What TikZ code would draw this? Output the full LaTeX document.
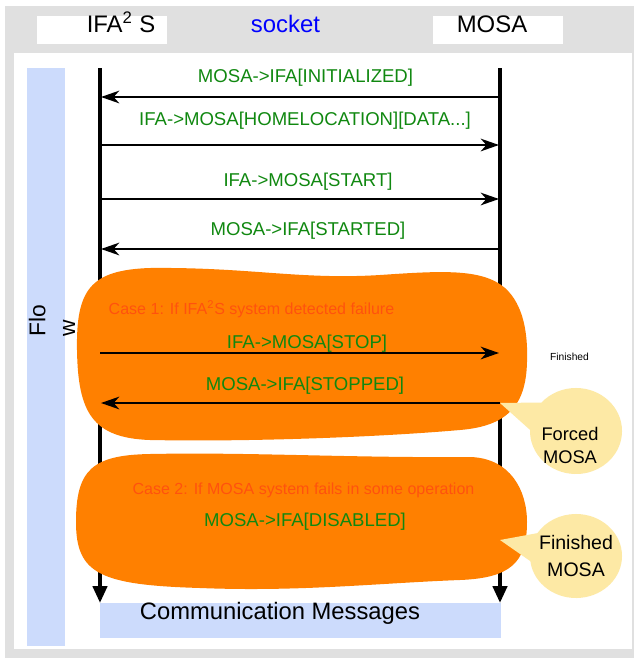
\documentclass[tikz,border=0pt]{standalone}
\usepackage{fontspec}
\setmainfont{Liberation Sans}
\usetikzlibrary{arrows.meta,shapes.callouts,positioning}
\definecolor{framegray}{RGB}{224,224,224}
\definecolor{flowblue}{RGB}{204,219,252}
\definecolor{msggreen}{RGB}{16,136,16}
\definecolor{caseorange}{RGB}{255,128,0}
\definecolor{casered}{RGB}{255,82,14}
\definecolor{notefill}{RGB}{253,233,165}

\begin{document}
\begin{tikzpicture}[
x=0.025cm, y=-0.025cm,
hdr/.style={
fill=white,
inner sep=0pt,
minimum width=3.25cm,
minimum height=0.7cm
},
hdrtext/.style={
inner sep=0pt,
font=\fontsize{17}{20}\selectfont
},
life/.style={
-{Triangle[length=12pt,width=10pt]},
line width=2.8pt
},
msg/.style={
-{Stealth[length=13pt,width=9pt,inset=4pt]},
line width=1.4pt
},
msgtext/.style={
inner sep=0pt,
text=msggreen,
font=\fontsize{13.2}{15}\selectfont
},
casetext/.style={
inner sep=0pt,
text=casered,
font=\fontsize{11.4}{13}\selectfont
},
blob/.style={
fill=caseorange
},
bubble/.style={
ellipse callout,
fill=notefill,
inner sep=0pt,
minimum width=2.3cm,
minimum height=2.15cm,
callout pointer arc=40
},
bubbletext/.style={
inner sep=0pt,
align=center
}
]

% frame and page
\fill[white] (0,0) rectangle (634,658);
\fill[framegray] (5,6) rectangle (634,658);
\fill[white] (14,53) rectangle (632,649);

% header boxes
\node[hdr] (ifa) at (102,30) {};
\node[hdr] (mosa) at (498,30) {};
\node[hdrtext, anchor=base] (ifaname) at (121,32) {IFA\textsuperscript{2} S};
\node[hdrtext, anchor=base, text=blue] (socket) at (285.5,32) {socket};
\node[hdrtext, anchor=base] (mosaname) at (492,32) {MOSA};

% flow bar on the left
\node[fill=flowblue, inner sep=0pt, anchor=north west,
minimum width=0.95cm, minimum height=14.45cm] (flowbar) at (27,68) {};
\node[rotate=90, align=left, inner sep=0pt,
font=\fontsize{16.2}{21}\selectfont] (flow) at (52,321) {Flo\\w};

% lifelines
\coordinate (ifaTop) at (100,68);
\coordinate (ifaEnd) at (100,603);
\coordinate (mosaTop) at (500,68);
\coordinate (mosaEnd) at (500,603);
\draw[life] (ifaTop) -- (ifaEnd);
\draw[life] (mosaTop) -- (mosaEnd);

% start-up messages
\coordinate (i1) at (101,97);
\coordinate (m1) at (500,97);
\coordinate (i2) at (100,145);
\coordinate (m2) at (499,145);
\coordinate (i3) at (100,199);
\coordinate (m3) at (499,199);
\coordinate (i4) at (101,249);
\coordinate (m4) at (500,249);

\draw[msg] (m1) -- (i1);
\draw[msg] (i2) -- (m2);
\draw[msg] (i3) -- (m3);
\draw[msg] (m4) -- (i4);

\node[msgtext, anchor=base] (t1) at (305.5,82) {MOSA->IFA[INITIALIZED]};
\node[msgtext, anchor=base] (t2) at (305,125) {IFA->MOSA[HOMELOCATION][DATA...]};
\node[msgtext, anchor=base] (t3) at (308,186) {IFA->MOSA[START]};
\node[msgtext, anchor=base] (t4) at (308,235) {MOSA->IFA[STARTED]};

% case 1
\fill[blob] (77,350)
.. controls (76,290) and (90,270) .. (150,268)
.. controls (250,267) and (300,280) .. (380,275)
.. controls (440,271) and (482,268) .. (505,288)
.. controls (524,305) and (528,335) .. (527,362)
.. controls (526,405) and (508,426) .. (460,430)
.. controls (380,437) and (250,442) .. (150,440)
.. controls (92,438) and (78,412) .. (77,350) -- cycle;

\node[casetext, anchor=base] (case1) at (251.5,314)
{Case 1: If IFA\textsuperscript{2}S system detected failure};

\coordinate (i5) at (100,353);
\coordinate (m5) at (499,353);
\coordinate (i6) at (101,403);
\coordinate (m6) at (500,403);
\draw[msg] (i5) -- (m5);
\draw[msg] (m6) -- (i6);
\node[msgtext, anchor=base] (t5) at (307,348) {IFA->MOSA[STOP]};
\node[msgtext, anchor=base] (t6) at (305,390) {MOSA->IFA[STOPPED]};

% case 2
\fill[blob] (76,522)
.. controls (76,470) and (92,455) .. (150,454)
.. controls (250,452) and (350,458) .. (470,457)
.. controls (510,458) and (527,490) .. (527,522)
.. controls (527,563) and (510,578) .. (460,580)
.. controls (380,583) and (300,592) .. (200,588)
.. controls (100,585) and (76,574) .. (76,522) -- cycle;

\node[casetext, anchor=base] (case2) at (303.5,494)
{Case 2: If MOSA system fails in some operation};
\node[msgtext, anchor=base] (t7) at (305,526) {MOSA->IFA[DISABLED]};
\coordinate (disabled) at (500,540);

% notes on the right
\node[font=\fontsize{7.3}{9}\selectfont, anchor=base] (finnote) at (569.5,360) {Finished};

\node[bubble, callout absolute pointer={(m6)}] (forced) at (576,431) {};
\node[bubbletext, font=\fontsize{13}{16.4}\selectfont] (forcedtext) at (570,445) {Forced\\MOSA};

\node[bubble, minimum height=2.1cm, callout absolute pointer={(disabled)}] (finished) at (576,556) {};
\node[bubbletext, font=\fontsize{13.9}{18.5}\selectfont] (finishedtext) at (576,556) {Finished\\MOSA};

% bottom bar
\node[fill=flowblue, inner sep=0pt, anchor=north west,
minimum width=10.025cm, minimum height=0.875cm] (msgbar) at (100,603) {};
\node[font=\fontsize{16.9}{20}\selectfont, inner sep=0pt, anchor=base] (msgbartext) at (280,619) {Communication Messages};

\end{tikzpicture}
\end{document}
